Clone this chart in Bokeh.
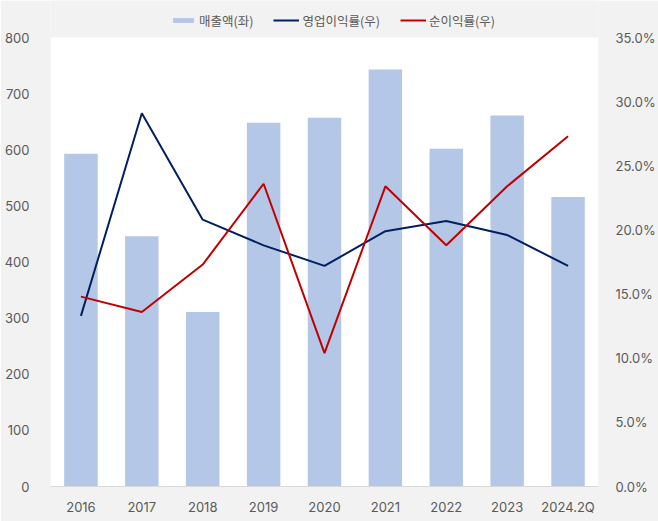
from bokeh.plotting import figure
from bokeh.models import (Range1d, LinearAxis, FixedTicker, NumeralTickFormatter,
                          Legend, LegendItem, ColumnDataSource, FactorRange, BoxAnnotation)
from bokeh.embed import file_html
from bokeh.resources import INLINE

# ---- data ----
categories = ["2016", "2017", "2018", "2019", "2020", "2021", "2022", "2023", "2024.2Q"]
revenue = [593, 446, 311, 648, 657, 743, 602, 661, 516]
op_margin = [13.3, 29.1, 20.8, 18.8, 17.2, 19.9, 20.7, 19.6, 17.2]
net_margin = [14.8, 13.6, 17.3, 23.6, 10.4, 23.4, 18.8, 23.4, 27.3]
left_ticks = [0, 100, 200, 300, 400, 500, 600, 700, 800]
right_ticks = [0, 5, 10, 15, 20, 25, 30, 35]

src = ColumnDataSource(dict(
    cat=categories,
    rev=revenue,
    op=[v / 100 for v in op_margin],
    net=[v / 100 for v in net_margin],
))

BG = "#f2f2f2"
TXT = "#595959"
TICK_FONT = "Inter"
LEG_FONT = "Noto Sans CJK KR"

# layout: the frame runs to the top edge so the legend (drawn in the frame) is not clipped;
# the white plot area covers 0..800 only.
W, H = 658, 521
B_LEFT, B_RIGHT, B_BOTTOM = 50, 57, 35
PLOT_H = 449                 # pixel height of the white area (0..800)
FRAME_H = H - B_BOTTOM       # frame from top edge to the x axis
left_max = left_ticks[-1]
right_max = right_ticks[-1] / 100
scale = FRAME_H / PLOT_H

p = figure(width=W, height=H, x_range=FactorRange(*categories),
           y_range=Range1d(0, left_max * scale), output_backend="svg", toolbar_location=None,
           min_border_left=B_LEFT, min_border_right=B_RIGHT, min_border_top=0,
           min_border_bottom=B_BOTTOM)
p.background_fill_color = BG
p.border_fill_color = BG
p.outline_line_color = None
p.xgrid.grid_line_color = None
p.ygrid.grid_line_color = None
p.x_range.range_padding = 0.0

p.add_layout(BoxAnnotation(bottom=0, top=left_max, fill_color="white", fill_alpha=1.0,
                           line_color=None, level="underlay"))

p.extra_y_ranges = {"pct": Range1d(0, right_max * scale)}

bars = p.vbar(x="cat", top="rev", width=0.55, source=src,
              fill_color="#b4c7e7", line_color=None)
l1 = p.line(x="cat", y="op", source=src, y_range_name="pct",
            line_color="#002060", line_width=2)
l2 = p.line(x="cat", y="net", source=src, y_range_name="pct",
            line_color="#c00000", line_width=2)

# left axis
ya = p.yaxis[0]
ya.ticker = FixedTicker(ticks=left_ticks)
ya.axis_line_color = None
ya.major_tick_line_color = None
ya.minor_tick_line_color = None
ya.major_label_standoff = 15
ya.major_label_text_font = TICK_FONT
ya.major_label_text_font_size = "13px"
ya.major_label_text_color = TXT

# right axis
ra = LinearAxis(y_range_name="pct", ticker=FixedTicker(ticks=[t / 100 for t in right_ticks]),
                formatter=NumeralTickFormatter(format="0.0%"))
ra.axis_line_color = None
ra.major_tick_line_color = None
ra.minor_tick_line_color = None
ra.major_label_standoff = 11
ra.major_label_text_font = TICK_FONT
ra.major_label_text_font_size = "13px"
ra.major_label_text_color = TXT
p.add_layout(ra, "right")

# x axis
xa = p.xaxis[0]
xa.axis_line_color = "#d9d9d9"
xa.axis_line_width = 1
xa.major_tick_line_color = None
xa.minor_tick_line_color = None
xa.major_label_standoff = 6
xa.major_label_text_font = TICK_FONT
xa.major_label_text_font_size = "13px"
xa.major_label_text_color = TXT

legend = Legend(items=[
    LegendItem(label="매출액(좌)", renderers=[bars]),
    LegendItem(label="영업이익률(우)", renderers=[l1]),
    LegendItem(label="순이익률(우)", renderers=[l2]),
], location=(120, FRAME_H - 30), orientation="horizontal")
legend.glyph_width = 26
legend.glyph_height = 6
legend.label_standoff = 3
legend.spacing = 20
legend.padding = 0
legend.margin = 0
legend.label_height = 20
legend.border_line_color = None
legend.background_fill_alpha = 0
legend.label_text_font = LEG_FONT
legend.label_text_font_size = "12.5px"
legend.label_text_color = TXT
p.add_layout(legend, "center")

open("out.html", "w").write(file_html(p, INLINE))
